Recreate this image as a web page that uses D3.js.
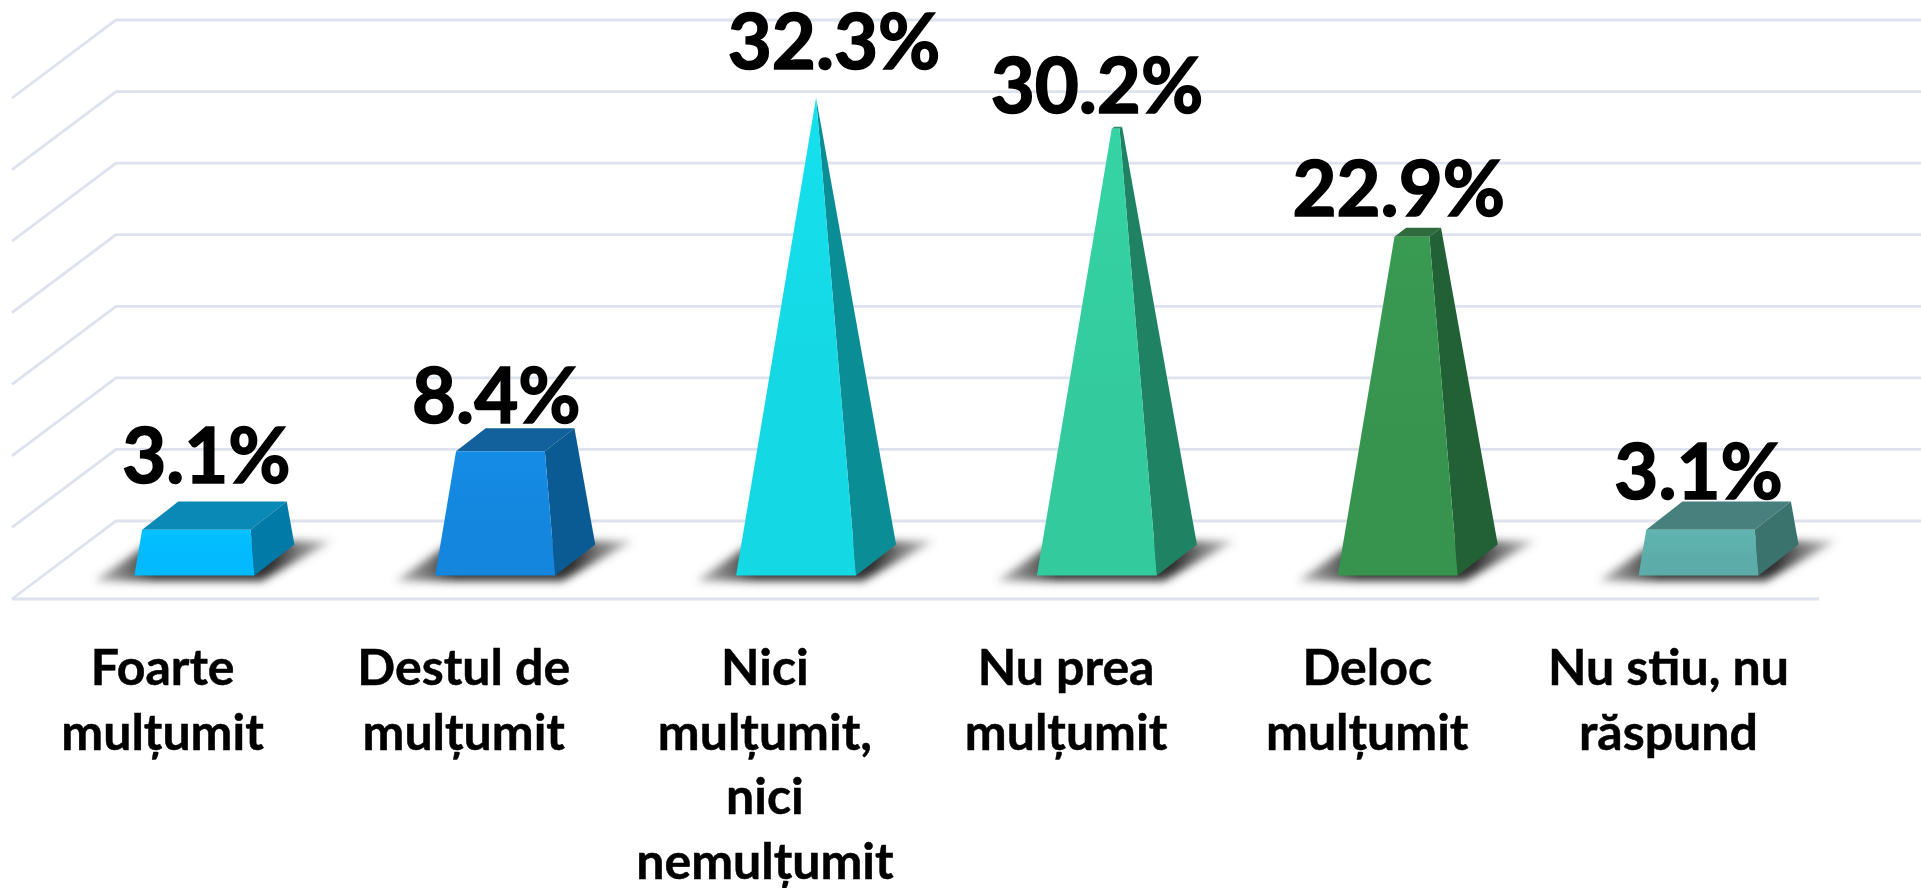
<!DOCTYPE html>
<html>
<head>
<meta charset="utf-8">
<script src="https://cdn.jsdelivr.net/npm/d3@7"></script>
<style>
    html, body { margin: 0; background: #fff; overflow: hidden; }
    text { font-family: Lato, "Open Sans", sans-serif; font-weight: 700; fill: #000; }
    .value { stroke: #000; stroke-width: 1.6px; }
    .cat { stroke: #000; stroke-width: 0.5px; }
</style>
</head>
<body>
<svg id="chart" width="1921" height="888"></svg>
<script>
var categories = ['Foarte mulțumit', 'Destul de mulțumit', 'Nici mulțumit, nici nemulțumit', 'Nu prea mulțumit', 'Deloc mulțumit', 'Nu stiu, nu răspund'];
var categoryLines = [
    ['Foarte', 'mulțumit'],
    ['Destul de', 'mulțumit'],
    ['Nici', 'mulțumit,', 'nici', 'nemulțumit'],
    ['Nu prea', 'mulțumit'],
    ['Deloc', 'mulțumit'],
    ['Nu stiu, nu', 'răspund']
];
var values = [3.1, 8.4, 32.3, 30.2, 22.9, 3.1];
var gridTicks = [0, 5, 10, 15, 20, 25, 30, 35];
var frontColors = ['#03b9ff', '#1486dd', '#14d8e4', '#33cb9e', '#37944f', '#5cada9'];
var topColors = ['#0b89b6', '#12609c', '#0f9aa3', '#2a8f70', '#2f6b3c', '#47807c'];
var sideColors = ['#017aa8', '#0a5a93', '#0b8d96', '#1f8363', '#226035', '#3a726e'];

// label placement is hand tuned, the original labels were dragged around
var labelDx = [-8, -19, 18, -20, -19, -20];
var labelDy = [19, 5, 29, 14, 12, 3];

var floorLeft = 12, floorRight = 1819, floorFront = 599, floorBack = 521;
var wallDx = 104;
var halfW = 60, depthX = 20, depthY = 15.5;

var svg = d3.select('#chart');
var defs = svg.append('defs');
var blur = defs.append('filter').attr('id', 'blur')
    .attr('x', '-30%').attr('y', '-50%').attr('width', '160%').attr('height', '200%');
blur.append('feGaussianBlur').attr('stdDeviation', 4.5);

var shadowGrad = defs.append('linearGradient').attr('id', 'shadowGrad');
shadowGrad.append('stop').attr('offset', '0%').attr('stop-color', '#555').attr('stop-opacity', 0.4);
shadowGrad.append('stop').attr('offset', '25%').attr('stop-color', '#333');
shadowGrad.append('stop').attr('offset', '75%').attr('stop-color', '#333');
shadowGrad.append('stop').attr('offset', '100%').attr('stop-color', '#555').attr('stop-opacity', 0.3);

frontColors.forEach(function (col, i) {
    var g = defs.append('linearGradient').attr('id', 'front' + i)
        .attr('x1', 0).attr('y1', 0).attr('x2', 0).attr('y2', 1);
    g.append('stop').attr('offset', '0%').attr('stop-color', d3.rgb(col).brighter(0.12));
    g.append('stop').attr('offset', '60%').attr('stop-color', col);
});

// height above the floor, same for back wall and bars
var h = d3.scaleLinear().domain([0, 35]).range([0, floorBack - 20]);
// bars stand on the middle of the floor
var x = d3.scaleBand().domain(categories)
    .range([floorLeft + wallDx / 2, floorRight + wallDx / 2 - 2]);
var xFront = d3.scaleBand().domain(categories).range([floorLeft, floorRight]);

var vMax = d3.max(values);
var line = d3.line();

var grid = svg.append('g').attr('fill', 'none').attr('stroke', '#dee1ee').attr('stroke-width', 2.8);
grid.selectAll('path').data(gridTicks).enter().append('path')
    .attr('d', function (d) {
        var dy = h(d);
        return line([
            [floorLeft, floorFront - dy],
            [floorLeft + wallDx, floorBack - dy],
            [floorRight + wallDx, floorBack - dy]
        ]);
    });
// front edge of the floor
grid.append('path').attr('d', line([[floorLeft, floorFront], [floorRight, floorFront]]));

var centerY = (floorFront + floorBack) / 2;

var bars = svg.selectAll('.bar').data(categories).enter().append('g').attr('class', 'bar');

function corners(c, v) {
    var cx = x(c) + x.bandwidth() / 2;
    var apex = [cx, centerY - h(vMax)];
    var t = v / vMax;
    var base = {
        fl: [cx - halfW - depthX, centerY + depthY],
        fr: [cx + halfW - depthX, centerY + depthY],
        bl: [cx - halfW + depthX, centerY - depthY],
        br: [cx + halfW + depthX, centerY - depthY]
    };
    function up(p) {
        return [p[0] + (apex[0] - p[0]) * t, p[1] + (apex[1] - p[1]) * t];
    }
    return {
        fl: base.fl, fr: base.fr, br: base.br,
        tfl: up(base.fl), tfr: up(base.fr), tbl: up(base.bl), tbr: up(base.br)
    };
}

bars.append('path')
    .attr('d', function (c) {
        var cx = x(c) + x.bandwidth() / 2;
        return line([[cx - 120, 581], [cx + 47, 581], [cx + 118, 541], [cx - 62, 541]]) + 'Z';
    })
    .attr('fill', 'url(#shadowGrad)')
    .attr('filter', 'url(#blur)');

bars.append('path')
    .attr('d', function (c, i) {
        var p = corners(c, values[i]);
        return line([p.tfl, p.tfr, p.tbr, p.tbl]) + 'Z';
    })
    .attr('fill', function (c, i) { return topColors[i]; });

bars.append('path')
    .attr('d', function (c, i) {
        var p = corners(c, values[i]);
        return line([p.fr, p.br, p.tbr, p.tfr]) + 'Z';
    })
    .attr('fill', function (c, i) { return sideColors[i]; });

bars.append('path')
    .attr('d', function (c, i) {
        var p = corners(c, values[i]);
        return line([p.fl, p.fr, p.tfr, p.tfl]) + 'Z';
    })
    .attr('fill', function (c, i) { return 'url(#front' + i + ')'; });

svg.selectAll('.value').data(categories).enter().append('text')
    .attr('class', 'value')
    .attr('text-anchor', 'middle')
    .attr('font-size', 76)
    .attr('x', function (c, i) { return x(c) + x.bandwidth() / 2 + labelDx[i]; })
    .attr('y', function (c, i) {
        var p = corners(c, values[i]);
        return p.tbl[1] - labelDy[i];
    })
    .text(function (c, i) { return values[i].toFixed(1) + '%'; });

var cats = svg.selectAll('.cat').data(categories).enter().append('text')
    .attr('class', 'cat')
    .attr('text-anchor', 'middle')
    .attr('font-size', 50)
    .attr('y', 685);
cats.selectAll('tspan').data(function (c, i) {
    return categoryLines[i].map(function (t) { return { text: t, c: c }; });
}).enter().append('tspan')
    .attr('x', function (d) { return xFront(d.c) + xFront.bandwidth() / 2; })
    .attr('dy', function (d, j) { return j ? 64.5 : 0; })
    .text(function (d) { return d.text; });
</script>
</body>
</html>
